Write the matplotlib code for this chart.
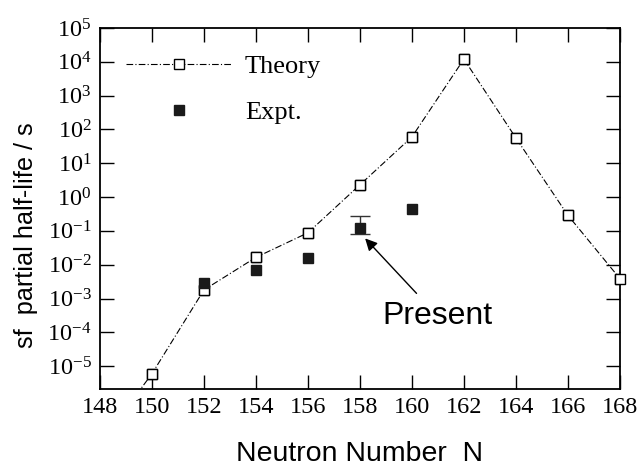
import matplotlib.pyplot as plt

plt.rcParams['font.family'] = 'Liberation Serif'
plt.rcParams['mathtext.fontset'] = 'custom'
plt.rcParams['mathtext.rm'] = 'Liberation Serif'
plt.rcParams['mathtext.it'] = 'Liberation Serif:italic'

# theory: sf partial half-life vs neutron number
theory_n = [148, 150, 152, 154, 156, 158, 160, 162, 164, 166, 168]
theory_t = [5e-8, 6e-6, 1.8e-3, 1.65e-2, 8.8e-2, 2.3, 60, 1.2e4, 56, 0.29, 3.9e-3]

# experimental values
expt_n = [152, 154, 156, 158, 160]
expt_t = [2.9e-3, 7.2e-3, 1.55e-2, 0.123, 0.45]

# the "present" measurement with its error bar
present_n = [158]
present_t = [0.123]
present_lo = [0.043]
present_hi = [0.157]

x_ticks = [148, 150, 152, 154, 156, 158, 160, 162, 164, 166, 168]

fig = plt.figure(figsize=(6.41, 4.66), dpi=100)
ax = fig.add_axes([0.156, 0.165, 0.811, 0.775])

# line is clipped to the box, markers inside the range are not
ax.plot(theory_n, theory_t, color='black', linewidth=0.8, dashes=(6, 2, 1, 2),
        marker='s', markersize=7, markerfacecolor='white', markeredgecolor='black',
        markeredgewidth=1.0, label='Theory', zorder=3)
ax.plot(theory_n[1:], theory_t[1:], linestyle='none', marker='s', markersize=7,
        markerfacecolor='white', markeredgecolor='black', markeredgewidth=1.0,
        clip_on=False, zorder=3)
ax.errorbar(present_n, present_t, yerr=[present_lo, present_hi], fmt='none',
            ecolor='#333333', elinewidth=1.0, capsize=7, capthick=1.0, zorder=4)
ax.plot(expt_n, expt_t, linestyle='none', marker='s', markersize=7, color='#1a1a1a',
        label='Expt.', zorder=5)

ax.set_yscale('log')
ax.set_xlim(148, 168)
ax.set_ylim(2.1e-6, 1e5)
ax.set_xticks(x_ticks)
ax.set_yticks([10.0 ** k for k in range(-5, 6)])

ax.tick_params(axis='both', which='major', direction='in', length=10, width=1.0,
               top=True, right=True, labelsize=17.5, pad=6)
ax.tick_params(axis='y', which='minor', direction='in', length=5, width=0.8,
               left=True, right=True)
ax.tick_params(axis='x', which='minor', bottom=False, top=False)
for s in ax.spines.values():
    s.set_linewidth(1.3)

ax.set_xlabel('Neutron Number  N', family='Liberation Sans', fontsize=20.5, labelpad=16)
ax.set_ylabel('sf  partial half-life / s', family='Liberation Sans', fontsize=18.2)
ax.yaxis.set_label_coords(-0.12, 0.425)

ax.legend(loc='upper left', bbox_to_anchor=(0.03, 0.955), frameon=False,
          fontsize=19, handlelength=4.0, handletextpad=0.5, labelspacing=0.85,
          borderaxespad=0)

ax.annotate('Present', xy=(158.2, 0.06), xytext=(161.0, 3e-4),
            family='Liberation Sans', fontsize=23, ha='center', va='center',
            arrowprops=dict(arrowstyle='-|>', color='black', lw=1.0,
                            mutation_scale=18, shrinkB=0, shrinkA=5))

fig.savefig('out.png', dpi=100)
